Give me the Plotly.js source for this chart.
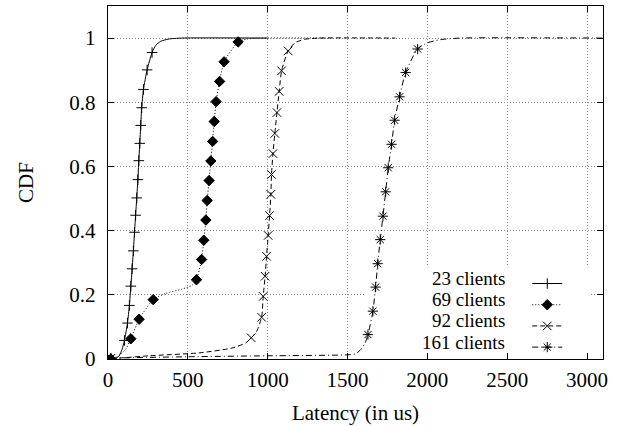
<!DOCTYPE html>
<html><head><meta charset="utf-8">
<script src="https://cdn.plot.ly/plotly-3.0.1.min.js"></script>
<style>html,body{margin:0;padding:0;background:#fff}</style>
</head><body><div id="chart" style="width:623px;height:426px"></div>
<script>
const seriesNames = ['23 clients', '69 clients', '92 clients', '161 clients'];

// 23 clients
const headLat23 = [50, 70, 88];
const headCdf23 = [0.002, 0.01, 0.03];
const markLat23 = [18, 103, 122, 134, 143, 151, 159, 166, 173, 180, 187, 193, 199, 205, 211, 222, 245, 276];
const markCdf23 = [0, 0.058, 0.112, 0.167, 0.227, 0.281, 0.337, 0.395, 0.448, 0.502, 0.559, 0.618, 0.672, 0.728, 0.783, 0.840, 0.901, 0.955];
const tailLat23 = [300, 330, 380, 460, 1000];
const tailCdf23 = [0.978, 0.99, 0.997, 1, 1];

// 69 clients
const headLat69 = [60, 110];
const headCdf69 = [0.008, 0.03];
const markLat69 = [18, 143, 195, 283, 554, 586, 600, 613, 621, 633, 644, 655, 665, 677, 699, 727, 815];
const markCdf69 = [0, 0.063, 0.124, 0.185, 0.247, 0.310, 0.370, 0.433, 0.494, 0.556, 0.617, 0.678, 0.740, 0.802, 0.865, 0.926, 0.988];
const midLat69 = [360, 464, 527];
const midCdf69 = [0.204, 0.218, 0.230];
const tailLat69 = [870, 950, 1400];
const tailCdf69 = [0.997, 1, 1];

// 92 clients
const headLat92 = [100, 257, 570, 776, 862];
const headCdf92 = [0.004, 0.010, 0.019, 0.034, 0.050];
const markLat92 = [18, 897, 962, 972, 984, 993, 1003, 1012, 1020, 1024, 1033, 1045, 1058, 1072, 1087, 1128];
const markCdf92 = [0.002, 0.066, 0.130, 0.195, 0.258, 0.320, 0.385, 0.447, 0.513, 0.575, 0.640, 0.703, 0.768, 0.834, 0.898, 0.960];
const midLat92 = [930];
const midCdf92 = [0.085];
const tailLat92 = [1170, 1230, 1320, 1800];
const tailCdf92 = [0.985, 0.996, 1, 1];

// 161 clients
const headLat161 = [500, 1000, 1500, 1551, 1582, 1610];
const headCdf161 = [0.007, 0.010, 0.013, 0.016, 0.029, 0.05];
const markLat161 = [18, 1628, 1659, 1676, 1689, 1705, 1722, 1739, 1755, 1776, 1795, 1826, 1864, 1939];
const markCdf161 = [0.003, 0.076, 0.149, 0.224, 0.297, 0.372, 0.445, 0.521, 0.596, 0.669, 0.744, 0.817, 0.893, 0.966];
const tailLat161 = [2000, 2080, 2200, 3100];
const tailCdf161 = [0.985, 0.995, 1, 1];

const xTicks = [0, 500, 1000, 1500, 2000, 2500, 3000];
const yTicks = [0, 0.2, 0.4, 0.6, 0.8, 1];
const yTickText = ['0', '0.2', '0.4', '0.6', '0.8', '1'];

function merge(lists) {
  const pts = [];
  lists.forEach(([xs, ys]) => xs.forEach((x, i) => pts.push([x, ys[i]])));
  pts.sort((a, b) => a[0] - b[0]);
  return {x: pts.map(p => p[0]), y: pts.map(p => p[1])};
}

const curves = [
  merge([[headLat23, headCdf23], [markLat23, markCdf23], [tailLat23, tailCdf23]]),
  merge([[headLat69, headCdf69], [markLat69, markCdf69], [midLat69, midCdf69], [tailLat69, tailCdf69]]),
  merge([[headLat92, headCdf92], [markLat92, markCdf92], [midLat92, midCdf92], [tailLat92, tailCdf92]]),
  merge([[headLat161, headCdf161], [markLat161, markCdf161], [tailLat161, tailCdf161]])
];
const marks = [
  {x: markLat23, y: markCdf23},
  {x: markLat69, y: markCdf69},
  {x: markLat92, y: markCdf92},
  {x: markLat161, y: markCdf161}
];

const styles = [
  {dash: 'solid', symbol: 'cross-thin', size: 7.5},
  {dash: '1px,2px', symbol: 'diamond', size: 8},
  {dash: '5px,3px', symbol: 'x-thin', size: 8.5},
  {dash: '6px,3px,1px,3px', symbol: 'asterisk', size: 8.5}
];

const traces = [];
curves.forEach((c, i) => {
  const s = styles[i];
  traces.push({
    x: c.x, y: c.y, mode: 'lines', showlegend: false, hoverinfo: 'skip',
    line: {color: '#000', width: 1, dash: s.dash, shape: 'spline', smoothing: 0.6}
  });
  traces.push({
    x: marks[i].x, y: marks[i].y, mode: 'markers', showlegend: false,
    marker: {symbol: s.symbol, size: s.size, color: '#000', line: {color: '#000', width: 1}}
  });
  traces.push({
    x: [null], y: [null], mode: 'lines+markers', name: ' ', showlegend: true,
    line: {color: '#000', width: 1, dash: s.dash},
    marker: {symbol: s.symbol, size: s.size, color: '#000', line: {color: '#000', width: 1}}
  });
});

const font = {family: '"Liberation Serif", "Times New Roman", serif', size: 21, color: '#000'};
const keyFont = {family: font.family, size: 19, color: '#000'};

const annotations = seriesNames.map((n, i) => ({
  xref: 'paper', yref: 'paper', x: 0.805, y: 0.229 - i * 0.0603,
  xanchor: 'right', yanchor: 'middle', showarrow: false, text: n, font: keyFont, borderpad: 0
}));

const layout = {
  width: 623, height: 426,
  margin: {l: 108, r: 20, t: 6, b: 67},
  paper_bgcolor: '#fff', plot_bgcolor: '#fff',
  font: font,
  showlegend: true,
  legend: {x: 0.847, y: 0.258, xanchor: 'left', yanchor: 'top', bgcolor: 'rgba(0,0,0,0)',
           font: {family: font.family, size: 14, color: '#000'}, borderwidth: 0,
           itemclick: false, tracegroupgap: 0},
  xaxis: {
    range: [0, 3100], tickvals: xTicks, ticktext: xTicks.map(String),
    ticks: 'inside', ticklen: 6, tickcolor: '#000', mirror: 'allticks',
    showline: true, linecolor: '#000', linewidth: 1.2,
    showgrid: true, gridcolor: '#888', griddash: '1px,2px', gridwidth: 1, zeroline: false,
    tickfont: font, ticklabelstandoff: 2,
    title: {text: 'Latency (in us)', font: font, standoff: 13}
  },
  yaxis: {
    range: [0, 1.1], tickvals: yTicks, ticktext: yTickText,
    ticks: 'inside', ticklen: 6, tickcolor: '#000', mirror: 'allticks',
    showline: true, linecolor: '#000', linewidth: 1.2,
    showgrid: true, gridcolor: '#888', griddash: '1px,2px', gridwidth: 1, zeroline: false,
    tickfont: font, ticklabelstandoff: 7,
    title: {text: 'CDF', font: font, standoff: 30}
  },
  shapes: [{
    type: 'rect', xref: 'x', yref: 'y', x0: 1609, x1: 3020, y0: 0, y1: 0.287,
    fillcolor: '#fff', line: {width: 0}, layer: 'between'
  }],
  annotations: annotations
};

Plotly.newPlot('chart', traces, layout, {staticPlot: true, displayModeBar: false});
</script>
</body></html>
